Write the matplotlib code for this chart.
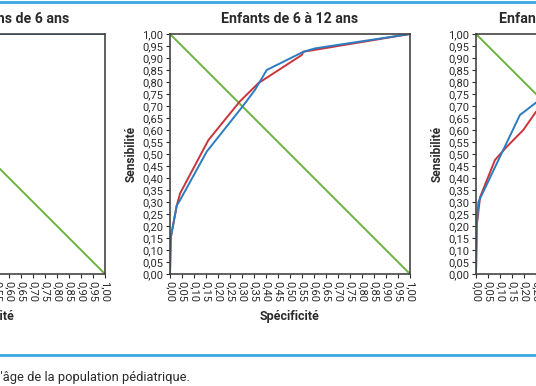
import matplotlib
matplotlib.use("Agg")
import matplotlib.pyplot as plt
from matplotlib.lines import Line2D

# --- data ---
panel_titles = ["Enfants de moins de 6 ans", "Enfants de 6 à 12 ans", "Enfants de plus de 12 ans"]

# left panel (mostly outside the crop)
left_blue_x = [0.0, 0.0, 0.03, 0.10, 0.20, 0.35, 0.50, 1.0]
left_blue_y = [0.0, 0.25, 0.45, 0.65, 0.80, 0.92, 1.0, 1.0]
left_red_x = [0.0, 0.0, 0.04, 0.12, 0.22, 0.36, 0.50, 1.0]
left_red_y = [0.0, 0.25, 0.48, 0.67, 0.81, 0.92, 1.0, 1.0]

# middle panel
mid_blue_x = [0.0, 0.003, 0.028, 0.042, 0.153, 0.30, 0.354, 0.403, 0.556, 0.604, 1.0]
mid_blue_y = [0.0, 0.15, 0.285, 0.308, 0.51, 0.695, 0.767, 0.85, 0.926, 0.94, 1.0]
mid_red_x = [0.0, 0.003, 0.028, 0.042, 0.16, 0.29, 0.368, 0.549, 0.556, 1.0]
mid_red_y = [0.0, 0.15, 0.285, 0.336, 0.558, 0.718, 0.795, 0.9125, 0.926, 1.0]

# right panel (partly outside the crop)
right_blue_x = [0.0, 0.003, 0.01, 0.183, 0.25, 0.40, 0.60, 1.0]
right_blue_y = [0.0, 0.20, 0.30, 0.6625, 0.714, 0.82, 0.93, 1.0]
right_red_x = [0.0, 0.003, 0.017, 0.079, 0.128, 0.197, 0.25, 0.40, 0.60, 1.0]
right_red_y = [0.0, 0.20, 0.32, 0.475, 0.53, 0.60, 0.676, 0.80, 0.92, 1.0]

diag_x = [0.0, 1.0]
diag_y = [1.0, 0.0]

ticks = [i * 0.05 for i in range(21)]
tick_labels = [f"{t:.2f}".replace(".", ",") for t in ticks]

caption = "de l'âge de la population pédiatrique."

GREEN = "#6cb33f"
RED = "#c9353b"
BLUE = "#2b7cc0"
RULE = "#3aa8de"
INK = "#2a2a2a"

W, H = 536, 386
plt.rcParams["font.family"] = ["Roboto", "DejaVu Sans"]
fig = plt.figure(figsize=(W / 100, H / 100), dpi=100)

panels = [
    (-135, left_blue_x, left_blue_y, left_red_x, left_red_y),
    (170, mid_blue_x, mid_blue_y, mid_red_x, mid_red_y),
    (476, right_blue_x, right_blue_y, right_red_x, right_red_y),
]

for i, ((x0, bx, by, rx, ry), title) in enumerate(zip(panels, panel_titles)):
    ax = fig.add_axes([x0 / W, (H - 274) / H, 240 / W, 240 / H])
    ax.plot(diag_x, diag_y, color=GREEN, lw=1.4, zorder=2)
    ax.plot(rx, ry, color=RED, lw=1.4, zorder=3)
    ax.plot(bx, by, color=BLUE, lw=1.4, zorder=4)
    ax.set_xlim(0, 1)
    ax.set_ylim(0, 1)
    ax.set_xticks(ticks)
    ax.set_yticks(ticks)
    ax.set_xticklabels(tick_labels, rotation=-90, fontsize=8, color=INK)
    ax.set_yticklabels(tick_labels, fontsize=8, color=INK)
    ax.tick_params(direction="out", length=3, width=0.8, pad=2, color=INK)
    for s in ax.spines.values():
        s.set_linewidth(1.2)
        s.set_color("#444444")
        s.set_zorder(5)
    if i == 2:
        # right title is wider in the source, only its start is in frame
        ax.set_title(title, fontsize=10.2, fontweight="bold", color=INK, pad=8,
                     x=23 / 240, ha="left")
    else:
        ax.set_title(title, fontsize=10.2, fontweight="bold", color=INK, pad=8)
    ax.set_xlabel("Spécificité", fontsize=9, fontweight="bold", color=INK, labelpad=6)
    ax.set_ylabel("Sensibilité", fontsize=8.6, fontweight="bold", color=INK, labelpad=3)

# blue rules and caption
fig.add_artist(Line2D([0, 1], [1 - 2 / H, 1 - 2 / H], color=RULE, lw=2, transform=fig.transFigure))
fig.add_artist(Line2D([0, 1], [1 - 355 / H, 1 - 355 / H], color=RULE, lw=2, transform=fig.transFigure))
fig.text(190 / W, 1 - 378 / H, caption, ha="right", va="center", fontsize=9.3, color=INK)

fig.savefig("out.png", dpi=100)
